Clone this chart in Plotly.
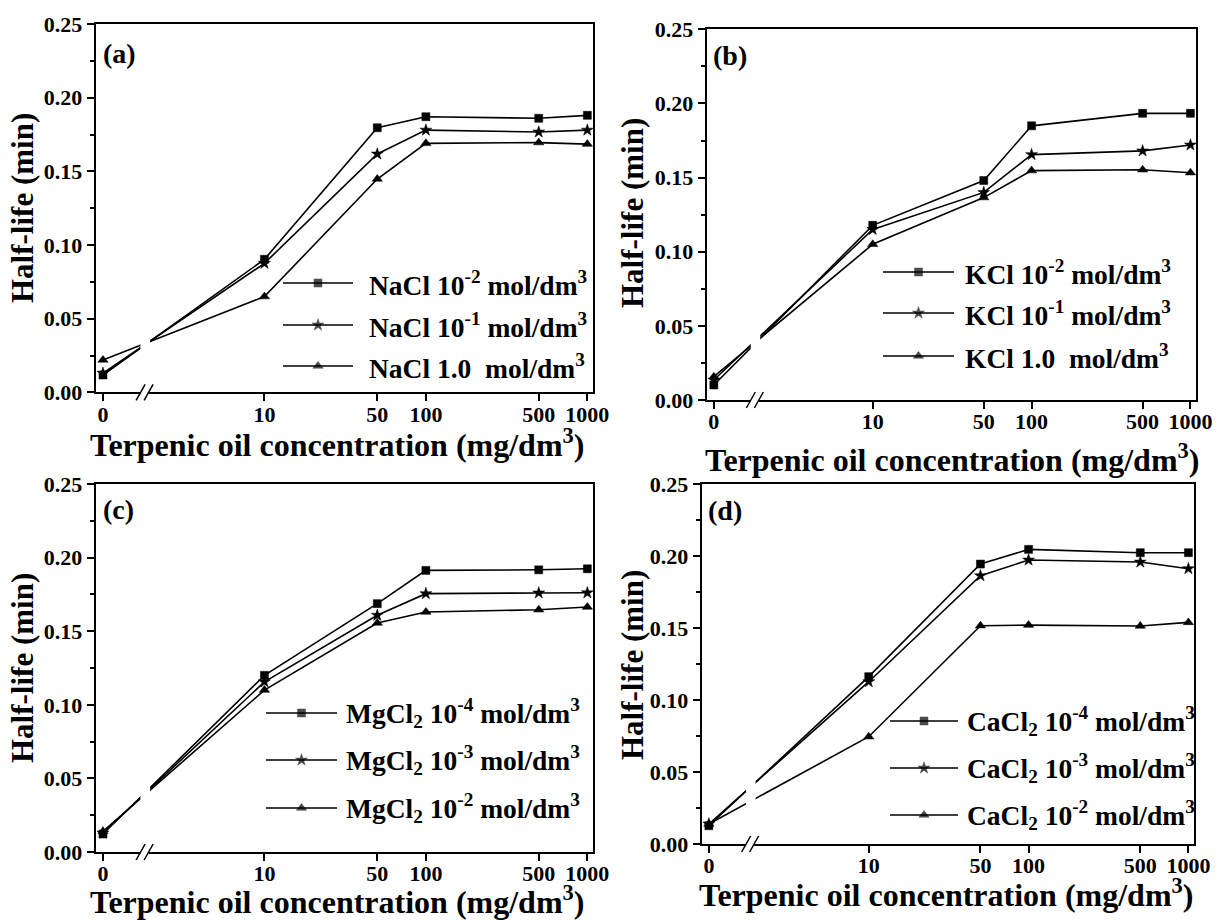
import math
import plotly.graph_objects as go

W, H = 1220, 920

# Terpenic oil concentration (mg/dm3) and the x tick labels
conc = [0, 10, 50, 100, 500, 1000]
tick_text = ["0", "10", "50", "100", "500", "1000"]

# Half-life (min), panel (a): NaCl
nacl_1e2 = [0.0118, 0.0903, 0.1796, 0.1871, 0.1860, 0.1880]
nacl_1e1 = [0.0130, 0.0876, 0.1618, 0.1780, 0.1767, 0.1780]
nacl_1 = [0.0220, 0.0650, 0.1448, 0.1690, 0.1695, 0.1685]

# panel (b): KCl
kcl_1e2 = [0.0101, 0.1178, 0.1480, 0.1849, 0.1933, 0.1933]
kcl_1e1 = [0.0135, 0.1150, 0.1400, 0.1655, 0.1680, 0.1720]
kcl_1 = [0.0157, 0.1050, 0.1365, 0.1547, 0.1553, 0.1533]

# panel (c): MgCl2
mgcl2_1e4 = [0.0122, 0.1200, 0.1687, 0.1913, 0.1917, 0.1924]
mgcl2_1e3 = [0.0129, 0.1156, 0.1608, 0.1755, 0.1760, 0.1761]
mgcl2_1e2 = [0.0140, 0.1100, 0.1556, 0.1630, 0.1646, 0.1664]

# panel (d): CaCl2
cacl2_1e4 = [0.0127, 0.1162, 0.1944, 0.2046, 0.2023, 0.2023]
cacl2_1e3 = [0.0139, 0.1127, 0.1863, 0.1972, 0.1958, 0.1912]
cacl2_1e2 = [0.0139, 0.0745, 0.1516, 0.1520, 0.1514, 0.1539]

nacl_names = ["NaCl 10<sup>-2</sup> mol/dm<sup>3</sup>",
              "NaCl 10<sup>-1</sup> mol/dm<sup>3</sup>",
              "NaCl 1.0&nbsp; mol/dm<sup>3</sup>"]
kcl_names = ["KCl 10<sup>-2</sup> mol/dm<sup>3</sup>",
             "KCl 10<sup>-1</sup> mol/dm<sup>3</sup>",
             "KCl 1.0&nbsp; mol/dm<sup>3</sup>"]
mgcl2_names = ["MgCl<sub>2</sub> 10<sup>-4</sup> mol/dm<sup>3</sup>",
               "MgCl<sub>2</sub> 10<sup>-3</sup> mol/dm<sup>3</sup>",
               "MgCl<sub>2</sub> 10<sup>-2</sup> mol/dm<sup>3</sup>"]
cacl2_names = ["CaCl<sub>2</sub> 10<sup>-4</sup> mol/dm<sup>3</sup>",
               "CaCl<sub>2</sub> 10<sup>-3</sup> mol/dm<sup>3</sup>",
               "CaCl<sub>2</sub> 10<sup>-2</sup> mol/dm<sup>3</sup>"]

FONT = "Liberation Serif"
symbols = ["square", "star", "triangle-up"]
sizes = [8, 9, 9]

X_RANGE = [-0.045, 3.035]
BREAK_GAP = (0.232, 0.292)   # blanked part of the 0 -> 10 segment
BREAK_MARK = 0.258           # centre of the "//" on the x axis


def xpos(c):
    """Broken x axis: 0 sits one decade left of 10, the rest is log10."""
    return math.log10(c) if c > 0 else 0.0


panels = [
    dict(tag="(a)", series=[nacl_1e2, nacl_1e1, nacl_1], names=nacl_names,
         box=(95.7, 24.0, 593.0, 392.4), ytitle=(22, 208), xtitle=(337, 443),
         label=(101, 54), leg_line=(283, 353), leg_rows=(283, 325, 366), leg_text=367),
    dict(tag="(b)", series=[kcl_1e2, kcl_1e1, kcl_1], names=kcl_names,
         box=(706.7, 29.3, 1196.0, 400.0), ytitle=(633, 213), xtitle=(952, 458),
         label=(711, 56), leg_line=(883, 954), leg_rows=(272, 313, 356), leg_text=963),
    dict(tag="(c)", series=[mgcl2_1e4, mgcl2_1e3, mgcl2_1e2], names=mgcl2_names,
         box=(95.7, 484.0, 593.0, 852.0), ytitle=(22, 668), xtitle=(337, 900),
         label=(101, 509), leg_line=(266, 337), leg_rows=(713, 760, 808), leg_text=344),
    dict(tag="(d)", series=[cacl2_1e4, cacl2_1e3, cacl2_1e2], names=cacl2_names,
         box=(701.7, 484.0, 1194.0, 844.0), ytitle=(632, 665), xtitle=(946, 893),
         label=(706, 510), leg_line=(890, 958), leg_rows=(721, 768, 815), leg_text=965),
]

fig = go.Figure()
layout = dict(
    width=W, height=H,
    margin=dict(l=0, r=0, t=0, b=0, pad=0, autoexpand=False),
    paper_bgcolor="white", plot_bgcolor="rgba(0,0,0,0)",
    showlegend=False,
    font=dict(family=FONT, color="black"),
)
annotations = []
shapes = []

xtickfont = dict(family=FONT, size=22, color="black", weight="bold")
ytickfont = dict(family=FONT, size=22, color="black", weight="bold")
xvals = [xpos(c) for c in conc]

for i, p in enumerate(panels):
    n = i + 1
    xa = "x" if n == 1 else f"x{n}"
    ya = "y" if n == 1 else f"y{n}"
    left, top, right, bottom = p["box"]

    for vals, name, sym, sz in zip(p["series"], p["names"], symbols, sizes):
        fig.add_trace(go.Scatter(
            x=[xpos(c) for c in conc], y=vals, name=name,
            mode="lines+markers", xaxis=xa, yaxis=ya,
            line=dict(color="black", width=1.6),
            marker=dict(symbol=sym, size=sz, color="black",
                        line=dict(color="black", width=0.5)),
            hoverinfo="x+y",
        ))

    layout["xaxis" if n == 1 else f"xaxis{n}"] = dict(
        domain=[left / W, right / W], range=X_RANGE, anchor=ya, automargin=False,
        tickmode="array", tickvals=xvals, ticktext=tick_text,
        ticks="outside", ticklen=7, tickwidth=2, tickcolor="black",
        ticklabelstandoff=-6,
        showline=True, linewidth=2, linecolor="black", mirror=True,
        showgrid=False, zeroline=False, tickfont=xtickfont, fixedrange=True,
    )
    layout["yaxis" if n == 1 else f"yaxis{n}"] = dict(
        domain=[1 - bottom / H, 1 - top / H], range=[0, 0.25], anchor=xa, automargin=False,
        tick0=0, dtick=0.05, tickformat=".2f",
        ticks="outside", ticklen=7, tickwidth=2, tickcolor="black",
        minor=dict(dtick=0.025, ticks="outside", ticklen=4, tickwidth=1.5,
                   tickcolor="black", showgrid=False),
        showline=True, linewidth=2, linecolor="black", mirror=True,
        showgrid=False, zeroline=False, tickfont=ytickfont, fixedrange=True,
    )

    # axis-break: blank the connecting segment and draw the "//" marks
    def px(v, left=left, right=right):
        return left + (v - X_RANGE[0]) / (X_RANGE[1] - X_RANGE[0]) * (right - left)

    g0, g1 = px(BREAK_GAP[0]), px(BREAK_GAP[1])
    shapes.append(dict(type="rect", xref="x5", yref="y5", layer="above",
                       x0=g0, x1=g1, y0=top + 3, y1=bottom - 3,
                       fillcolor="white", line=dict(width=0)))
    cx = px(BREAK_MARK)
    shapes.append(dict(type="rect", xref="x5", yref="y5", layer="above",
                       x0=cx - 4, x1=cx + 4, y0=bottom - 2, y1=bottom + 2,
                       fillcolor="white", line=dict(width=0)))
    for off in (-4, 4):
        shapes.append(dict(type="line", xref="x5", yref="y5", layer="above",
                           x0=cx + off - 4.5, y0=bottom + 8,
                           x1=cx + off + 4.5, y1=bottom - 8,
                           line=dict(color="black", width=1.5)))

    # legend: line samples, markers and labels
    l0, l1 = p["leg_line"]
    for row, name, sym, sz in zip(p["leg_rows"], p["names"], symbols, sizes):
        shapes.append(dict(type="line", xref="x5", yref="y5", layer="below",
                           x0=l0, x1=l1, y0=row, y1=row,
                           line=dict(color="black", width=1.6)))
        annotations.append(dict(
            text=name, xref="paper", yref="paper",
            x=p["leg_text"] / W, y=1 - row / H, xanchor="left", yanchor="middle",
            showarrow=False, font=dict(family=FONT, size=27.5, color="black", weight="bold"),
        ))
    fig.add_trace(go.Scatter(
        x=[(l0 + l1) / 2] * 3, y=list(p["leg_rows"]), mode="markers",
        xaxis="x5", yaxis="y5", hoverinfo="skip",
        marker=dict(symbol=symbols, size=sizes, color="black",
                    line=dict(color="black", width=0.5)),
    ))

    # panel tag and axis titles
    annotations.append(dict(
        text=p["tag"], xref="paper", yref="paper",
        x=p["label"][0] / W, y=1 - p["label"][1] / H, xanchor="left", yanchor="middle",
        showarrow=False, font=dict(family=FONT, size=28, color="black", weight="bold"),
    ))
    annotations.append(dict(
        text="Half-life (min)", xref="paper", yref="paper", textangle=-90,
        x=p["ytitle"][0] / W, y=1 - p["ytitle"][1] / H, xanchor="center", yanchor="middle",
        showarrow=False, font=dict(family=FONT, size=31, color="black", weight="bold"),
    ))
    annotations.append(dict(
        text="Terpenic oil concentration (mg/dm<sup>3</sup>)", xref="paper", yref="paper",
        x=p["xtitle"][0] / W, y=1 - p["xtitle"][1] / H, xanchor="center", yanchor="middle",
        showarrow=False, font=dict(family=FONT, size=32, color="black", weight="bold"),
    ))

# full-figure pixel frame used for the legend samples and axis-break marks
layout["xaxis5"] = dict(domain=[0, 1], range=[0, W], anchor="y5", visible=False,
                        fixedrange=True, automargin=False)
layout["yaxis5"] = dict(domain=[0, 1], range=[H, 0], anchor="x5", visible=False,
                        fixedrange=True, automargin=False)
layout["annotations"] = annotations
layout["shapes"] = shapes
fig.update_layout(**layout)

fig.write_html("out.html")
